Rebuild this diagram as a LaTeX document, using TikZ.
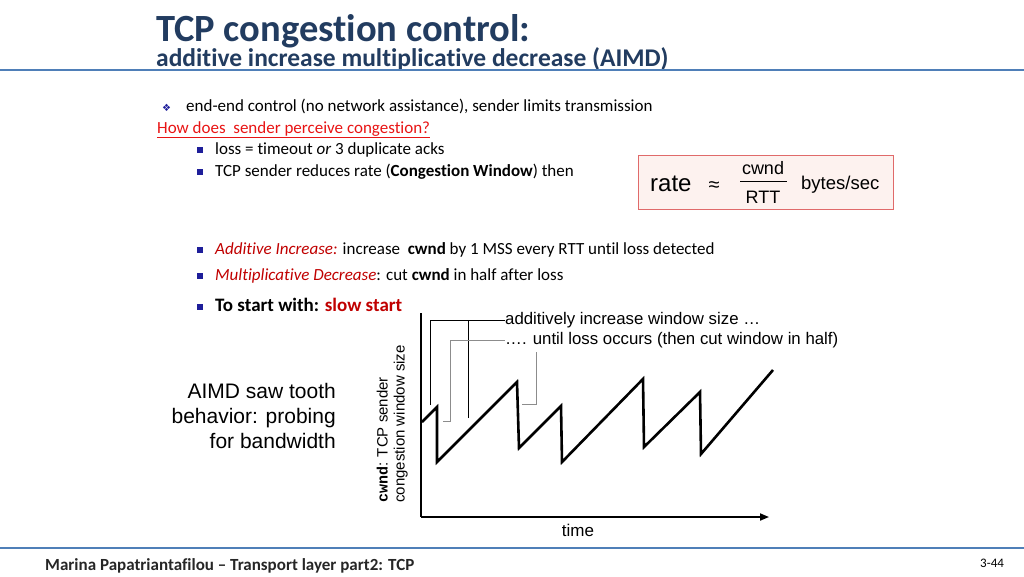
\documentclass[tikz,border=0pt]{standalone}
\usepackage{fontspec}
\setmainfont{Carlito}[Ligatures=NoCommon]
\newfontfamily\arialf{Liberation Sans}
\newfontfamily\symf{DejaVu Sans}
\newfontfamily\monof{Liberation Mono}
\usetikzlibrary{positioning,arrows.meta}

\definecolor{titleblue}{HTML}{223C60}
\definecolor{ruleblue}{HTML}{4F7FB8}
\definecolor{bulletblue}{HTML}{1E1E9A}
\definecolor{linkred}{HTML}{E81414}
\definecolor{darkred}{HTML}{C00000}
\definecolor{boxborder}{HTML}{E06A6A}
\definecolor{boxfill}{HTML}{FDF2EF}

\newcommand{\fsz}[2]{\fontsize{#1}{#2}\selectfont}
\newcommand{\sqb}{\textcolor{bulletblue}{\rule[1pt]{6pt}{6pt}}\hspace{12pt}}

\tikzset{
  txt/.style={anchor=base west, inner sep=0pt, font=\fsz{17}{20}},
  chartlbl/.style={anchor=west, inner sep=0pt, font=\arialf\fsz{16.8}{19}},
  callout/.style={line width=0.9pt},
  calloutgray/.style={line width=0.9pt, black!45},
  sawline/.style={line width=2.6pt, line join=miter},
  axisline/.style={line width=1.8pt}
}

\begin{document}
\begin{tikzpicture}[x=1pt, y=-1pt]
  \useasboundingbox (0,0) rectangle (1024,576);

  % Heading
  \node[anchor=base west, inner sep=0pt, text depth=0pt, text=titleblue, font=\bfseries\fsz{38.5}{42}] (title) at (156,41) {TCP congestion control:};
  \node[anchor=base west, inner sep=0pt, text=titleblue, font=\bfseries\fsz{25.5}{28}] (subtitle) at (156,66) {additive increase multiplicative decrease (AIMD)};
  \draw[ruleblue, line width=2pt] (0,70) -- (1024,70);

  % Bullet text
  \node[txt] (diam) at (162,111) {\textcolor{bulletblue}{\symf\fsz{10}{12}❖}};
  \node[txt] (endend) at (186,111) {end-end control (no network assistance), sender limits transmission};
  \node[txt, text=linkred] (howq) at (157,133) {\underline{How does\ \ sender perceive congestion?}};
  \node[txt] (loss) at (197,154) {\sqb loss = timeout \emph{or} 3 duplicate acks};
  \node[txt] (reduce) at (197,176) {\sqb TCP sender reduces rate (\textbf{Congestion Window}) then};
  \node[txt] (addinc) at (197,254) {\sqb\textcolor{darkred}{\emph{Additive Increase:}} increase\ \ \textbf{cwnd} by 1 MSS every RTT until loss detected};
  \node[txt] (multdec) at (197,280) {\sqb\textcolor{darkred}{\emph{Multiplicative Decrease}}: cut \textbf{cwnd} in half after loss};
  \node[txt, font=\bfseries\fsz{19}{22}] (slowst) at (197,311) {\sqb To start with: \textcolor{darkred}{slow start}};

  % Rate formula box
  \draw[boxborder, fill=boxfill, line width=1pt] (638,155) rectangle (893,209);
  \node[anchor=base west, inner sep=0pt, font=\arialf\fsz{24}{26}] (rate) at (650,191) {rate};
  \node[anchor=base, inner sep=0pt, font=\arialf\fsz{20}{22}] (approx) at (714,191) {≈};
  \node[anchor=base, inner sep=0pt, font=\arialf\fsz{18}{20}] (cwnd) at (763,174) {cwnd};
  \node[anchor=base, inner sep=0pt, font=\arialf\fsz{18}{20}] (rtt) at (763,203) {RTT};
  \draw[line width=1pt] (740,181) -- (787,181);
  \node[anchor=base west, inner sep=0pt, font=\arialf\fsz{18.5}{20}] (bytes) at (801,189) {bytes/sec};

  % Saw tooth plot
  \coordinate (orig) at (421,517);
  \draw[axisline] (421,313) -- (orig);
  \draw[axisline, -{Triangle[length=9pt, width=7pt]}] (orig) -- (769,517);
  \node[anchor=base, inner sep=0pt, font=\arialf\fsz{17}{20}] (time) at (578,536) {time};
  \node[rotate=90, anchor=south west, inner sep=0pt, align=left, font=\arialf\fsz{15}{17}] (ylbl) at (408,503)
    {{\monof\bfseries cwnd}: TCP sender\\congestion window size};
  \node[anchor=base east, inner sep=0pt, align=right, font=\arialf\fsz{21}{25}] (aimd) at (336,448)
    {AIMD saw tooth\\behavior: probing\\for bandwidth};

  \coordinate (p0) at (422,422);
  \coordinate (p1) at (437,407);
  \coordinate (p2) at (437,462);
  \coordinate (p3) at (517,382);
  \coordinate (p4) at (519,448);
  \coordinate (p5) at (561,406);
  \coordinate (p6) at (562,462);
  \coordinate (p7) at (643,379);
  \coordinate (p8) at (644,447);
  \coordinate (p9) at (700,392);
  \coordinate (p10) at (701,454);
  \coordinate (p11) at (773,370);
  \draw[sawline] (p0) -- (p1) -- (p2) -- (p3) -- (p4) -- (p5) -- (p6) -- (p7) -- (p8) -- (p9) -- (p10) -- (p11);

  % Callouts
  \node[chartlbl] (addlbl) at (505,320) {additively increase window size …};
  \node[chartlbl] (losslbl) at (505,340) {…. until loss occurs (then cut window in half)};
  \coordinate (a1) at (430,405);
  \coordinate (a2) at (468,418);
  \coordinate (l1) at (443,421);
  \coordinate (l2) at (522,404);
  \coordinate (l2top) at (536,352);
  \draw[callout] (a1) |- (addlbl.west);
  \draw[callout] (a2) -- (a2 |- addlbl.west);
  \draw[calloutgray] (l1) -- (450,421) |- (losslbl.west);
  \draw[calloutgray] (l2) -| (l2top);

  % Footer
  \draw[ruleblue, line width=2pt] (0,548) -- (1024,548);
  \node[anchor=base west, inner sep=0pt, font=\bfseries\fsz{17}{19}, text=black!85] (foot) at (45,570) {Marina Papatriantafilou – Transport layer part2: TCP};
  \node[anchor=base west, inner sep=0pt, font=\fsz{13}{15}] (pagenum) at (980,567) {3-44};
\end{tikzpicture}
\end{document}
